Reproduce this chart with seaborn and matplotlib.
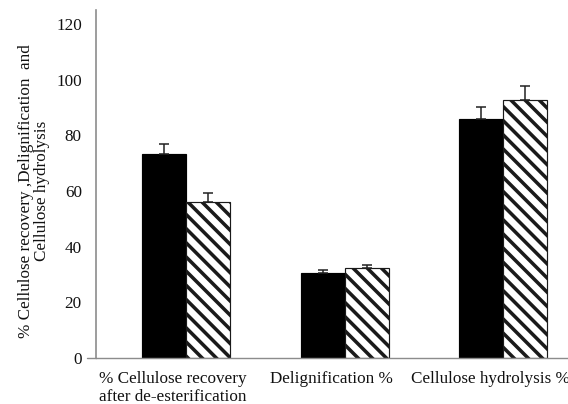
import matplotlib
matplotlib.use("Agg")
import matplotlib.pyplot as plt
import matplotlib.transforms as mtransforms
import seaborn as sns
import pandas as pd
import numpy as np

categories = ["% Cellulose recovery\nafter de-esterification", "Delignification %", "Cellulose hydrolysis %"]
series = ["A", "B"]
values_a = [73.3, 30.6, 85.9]
values_b = [56.0, 32.4, 92.6]
err_a = [3.4, 0.9, 4.4]
err_b = [3.4, 1.0, 5.1]
yticks = [0, 20, 40, 60, 80, 100, 120]

sns.set_theme(style="white")
plt.rcParams['font.family'] = ['Liberation Serif', 'DejaVu Serif']
plt.rcParams['hatch.linewidth'] = 3.0
plt.rcParams['hatch.color'] = 'black'

DPI = 85
fig = plt.figure(figsize=(568 / DPI, 404 / DPI), dpi=DPI)
ax = fig.add_axes([96 / 568, 46 / 404, 472 / 568, 348 / 404])

df = pd.DataFrame({
    "category": categories * 2,
    "series": [series[0]] * 3 + [series[1]] * 3,
    "value": values_a + values_b,
})

sns.barplot(data=df, x="category", y="value", hue="series", order=categories,
            hue_order=series, palette=["black", "white"], width=0.555,
            edgecolor="black", linewidth=1.0, errorbar=None, ax=ax, legend=False)

bars_a = ax.containers[0]
bars_b = ax.containers[1]
for p in bars_b:
    p.set_hatch("\\\\")
    p.set_edgecolor("#1a1a1a")

for bars, vals, errs in [(bars_a, values_a, err_a), (bars_b, values_b, err_b)]:
    xs = [p.get_x() + p.get_width() / 2 for p in bars]
    ax.errorbar(xs, vals, yerr=[np.zeros(len(errs)), errs], fmt="none",
                ecolor="#222222", elinewidth=1.3, capsize=4.5, capthick=1.3, zorder=3)

ax.set_xlim(-0.57, 2.41)
ax.set_ylim(0, 125)
ax.set_yticks(yticks)
ax.set_yticklabels([str(t) for t in yticks], fontsize=14.5, color="#111111")
ax.tick_params(axis="y", length=0, pad=12)
ax.tick_params(axis="x", length=0, pad=11)
offset = mtransforms.ScaledTranslation(-13 / DPI, 0, fig.dpi_scale_trans)
for lab in ax.get_xticklabels():
    lab.set_fontsize(14.5)
    lab.set_color("#111111")
    lab.set_multialignment("left")
    lab.set_linespacing(1.2)
    lab.set_transform(lab.get_transform() + offset)

for s in ["top", "right"]:
    ax.spines[s].set_visible(False)
ax.spines["left"].set_color("#8c8c8c")
ax.spines["left"].set_linewidth(1.4)
ax.spines["bottom"].set_color("#8c8c8c")
ax.spines["bottom"].set_linewidth(1.2)
ax.plot([-0.02, 0], [0, 0], color="#8c8c8c", lw=1.2, transform=ax.get_yaxis_transform(), clip_on=False)

ax.set_xlabel("")
ax.set_ylabel("% Cellulose recovery ,Delignification  and\nCellulose hydrolysis", fontsize=14.5,
              labelpad=5, color="#111111", linespacing=1.05)
ax.yaxis.label.set_y(0.48)

fig.savefig("out.png", dpi=DPI)
